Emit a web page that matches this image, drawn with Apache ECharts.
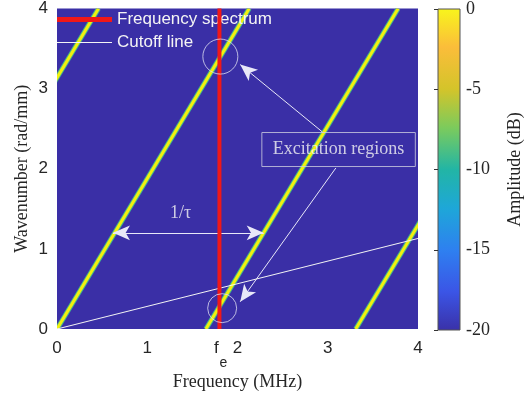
<!DOCTYPE html>
<html>
<head>
<meta charset="utf-8">
<script src="https://cdn.jsdelivr.net/npm/echarts@6/dist/echarts.min.js"></script>
<style>
html, body { margin: 0; padding: 0; background: #fff; }
#chart { width: 525px; height: 401px; }
</style>
</head>
<body>
<div id="chart"></div>
<script>
// axis ticks
const freqTicks = [0, 1, 1.8, 2, 3, 4]
const waveTicks = [0, 1, 2, 3, 4]
const ampTicks = [-20, -15, -10, -5, 0]
const fe = 1.8

// excitation ridges (0 dB), two end points each: [MHz, rad/mm]
const ridgeA = [[-1.67, 0], [0.46, 4]]
const ridgeB = [[0, 0], [2.13, 4]]
const ridgeC = [[1.65, 0], [3.78, 4]]
const ridgeD = [[3.31, 0], [5.44, 4]]
const spectrum = [[fe, 0], [fe, 4]]
const cutoff = [[0, 0], [4, 1.13]]

// annotations
const circleCenters = [[1.81, 3.4], [1.83, 0.26]]
const arrowUp = [[2.94, 2.46], [2.03, 3.3]]
const arrowDown = [[3.09, 2.01], [2.03, 0.34]]
const periodArrow = [[0.62, 1.2], [2.29, 1.2]]
const periodLabel = [1.37, 1.44]
const boxLabel = [3.12, 2.24]

const serif = 'Liberation Serif'
const sans = 'Liberation Sans'

const chart = echarts.init(document.getElementById('chart'))

// each ridge as one row: x1, y1, x2, y2
const ridgeRows = [ridgeA, ridgeB, ridgeC, ridgeD].map(r => [r[0][0], r[0][1], r[1][0], r[1][1]])

function renderRidge(params, api) {
  const p1 = api.coord([api.value(0), api.value(1)])
  const p2 = api.coord([api.value(2), api.value(3)])
  const shape = { x1: p1[0], y1: p1[1], x2: p2[0], y2: p2[1] }
  return {
    type: 'group',
    children: [
      { type: 'line', shape: shape, style: { stroke: '#45b98a', lineWidth: 5 } },
      { type: 'line', shape: shape, style: { stroke: '#f3f00e', lineWidth: 3 } }
    ]
  }
}

chart.setOption({
  animation: false,
  grid: [
    { left: 57, right: 107, top: 7, bottom: 72, show: true, backgroundColor: '#3a2fa6', borderWidth: 0 },
    {
      left: 438, width: 30, top: 7, bottom: 71, show: true, borderColor: '#555', borderWidth: 1,
      backgroundColor: new echarts.graphic.LinearGradient(0, 0, 0, 1, [
        { offset: 0, color: '#f8f51c' },
        { offset: 0.12, color: '#fbbd3a' },
        { offset: 0.25, color: '#d4c42a' },
        { offset: 0.37, color: '#7ccb5c' },
        { offset: 0.5, color: '#22b5a5' },
        { offset: 0.62, color: '#1ea7d8' },
        { offset: 0.75, color: '#2e80f0' },
        { offset: 0.88, color: '#3b55e6' },
        { offset: 1, color: '#3a31a8' }
      ])
    }
  ],
  legend: {
    left: 57, top: 11, orient: 'vertical', padding: 0,
    itemWidth: 55, itemHeight: 14, itemGap: 6,
    textStyle: { color: '#f4f4f4', fontSize: 17, fontFamily: sans },
    data: [
      { name: 'Frequency spectrum', icon: 'path://M0,0H55V5H0Z' },
      { name: 'Cutoff line', icon: 'path://M0,0H55V1H0Z' }
    ]
  },
  xAxis: [
    {
      gridIndex: 0, type: 'value', min: 0, max: 4, interval: 1,
      name: 'Frequency (MHz)', nameLocation: 'middle', nameGap: 44, nameMoveOverlap: false,
      nameTextStyle: { fontFamily: serif, fontSize: 18, color: '#262626' },
      axisLine: { show: false }, axisTick: { show: false }, splitLine: { show: false },
      axisLabel: {
        customValues: freqTicks, margin: 11, fontSize: 17, fontFamily: sans, color: '#262626',
        formatter: v => (Math.abs(v - fe) < 1e-6 ? '{f|f}\n{e|e}' : String(v)),
        rich: {
          f: { fontSize: 17, fontFamily: sans, color: '#262626', lineHeight: 17, padding: [0, 6, 0, 0] },
          e: { fontSize: 14, fontFamily: sans, color: '#262626', lineHeight: 13, padding: [0, 0, 0, 8] }
        }
      }
    },
    { gridIndex: 1, type: 'value', min: 0, max: 1, show: false }
  ],
  yAxis: [
    {
      gridIndex: 0, type: 'value', min: 0, max: 4, interval: 1,
      name: 'Wavenumber (rad/mm)', nameLocation: 'middle', nameGap: 26, nameMoveOverlap: false,
      nameTextStyle: { fontFamily: serif, fontSize: 18, color: '#262626' },
      axisLine: { show: false }, axisTick: { show: false }, splitLine: { show: false },
      axisLabel: { customValues: waveTicks, margin: 9, fontSize: 17, fontFamily: sans, color: '#262626' }
    },
    {
      gridIndex: 1, type: 'value', position: 'right', min: -20, max: 0, interval: 5,
      name: 'Amplitude (dB)', nameLocation: 'middle', nameGap: 46, nameRotate: 90, nameMoveOverlap: false,
      nameTextStyle: { fontFamily: serif, fontSize: 18, color: '#262626' },
      axisLine: { show: false }, splitLine: { show: false },
      axisTick: { show: true, inside: true, length: 4, lineStyle: { color: '#333' } },
      axisLabel: { customValues: ampTicks, margin: 6, fontSize: 18, fontFamily: serif, color: '#262626' }
    }
  ],
  series: [
    {
      type: 'custom', renderItem: renderRidge, data: ridgeRows, clip: true, silent: true, z: 2,
      encode: { x: [0, 2], y: [1, 3] }
    },
    {
      name: 'Cutoff line', type: 'line', data: cutoff, symbol: 'none', z: 4,
      color: '#f4f4f4', lineStyle: { color: '#f4f4f4', width: 1 }
    },
    {
      name: 'Frequency spectrum', type: 'line', data: spectrum, symbol: 'none', z: 5,
      color: '#f01818', lineStyle: { color: '#f01818', width: 4 },
      markLine: {
        silent: true, symbol: ['none', 'arrow'], symbolSize: [11, 17],
        label: { show: false },
        lineStyle: { color: '#e8e8f8', width: 1, type: 'solid' },
        data: [
          [{ coord: arrowUp[0] }, { coord: arrowUp[1] }],
          [{ coord: arrowDown[0] }, { coord: arrowDown[1] }],
          [{ coord: periodArrow[0], symbol: 'arrow' }, { coord: periodArrow[1] }]
        ]
      }
    },
    {
      type: 'scatter', z: 6, silent: true,
      data: circleCenters.map((c, i) => ({ value: c, symbolSize: i === 0 ? 35 : 29 })),
      itemStyle: { color: 'rgba(0,0,0,0)', borderColor: '#dcdcf0', borderWidth: 1 }
    },
    {
      type: 'scatter', z: 7, silent: true, symbolSize: 0,
      data: [
        { value: periodLabel, label: { formatter: '1/\u03c4' } },
        {
          value: boxLabel,
          label: { formatter: 'Excitation regions', borderColor: '#d0d0e0', borderWidth: 1, padding: [9, 11, 7, 11] }
        }
      ],
      label: { show: true, position: 'inside', color: '#f4f4f4', fontSize: 18, fontFamily: serif }
    }
  ]
})
</script>
</body>
</html>
